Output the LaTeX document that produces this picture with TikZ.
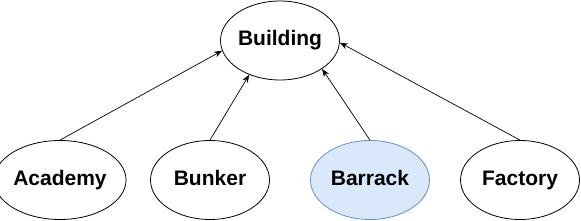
\documentclass[tikz,border=0pt]{standalone}
\usepackage{fontspec}
\setmainfont{Liberation Sans}
\usetikzlibrary{arrows.meta, positioning, shapes.geometric}
\definecolor{barrackfill}{RGB}{218,232,252}
\definecolor{barrackline}{RGB}{108,142,191}

\begin{document}
\begin{tikzpicture}[
  x=1pt, y=-1pt,
  font=\fontsize{21}{25}\selectfont\bfseries,
  unit/.style={ellipse, draw=black, line width=0.8pt, minimum width=119pt, minimum height=79pt,
    inner sep=0pt, text height=15pt, text depth=4pt},
  link/.style={-{Stealth[length=8pt, width=6pt]}, line width=0.7pt}
]
\useasboundingbox (0,0) rectangle (581,221);
\node[unit] (building) at (280,40.5) {Building};
\node[unit] (academy) at (60,180) {Academy};
\node[unit] (bunker) at (210,180) {Bunker};
\node[unit, fill=barrackfill, draw=barrackline] (barrack) at (370,180) {Barrack};
\node[unit] (factory) at (520,180) {Factory};
\draw[link] (academy.north) -- (building.190);
\draw[link] (bunker.north) -- (building.228);
\draw[link] (barrack.north) -- (building.326);
\draw[link] (factory.north) -- (building.358);
\end{tikzpicture}
\end{document}
